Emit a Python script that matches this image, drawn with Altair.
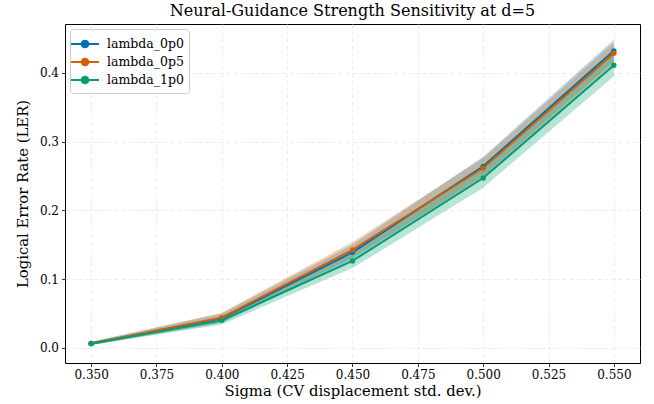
import altair as alt
import pandas as pd

sigma = [0.35, 0.40, 0.45, 0.50, 0.55]
series = ["lambda_0p0", "lambda_0p5", "lambda_1p0"]
ler_0p0 = [0.0065, 0.043, 0.139, 0.264, 0.432]
ler_0p5 = [0.0065, 0.044, 0.1425, 0.2615, 0.4285]
ler_1p0 = [0.006, 0.040, 0.1265, 0.247, 0.411]
lo_0p0 = [0.004, 0.036, 0.128, 0.250, 0.416]
hi_0p0 = [0.009, 0.050, 0.150, 0.278, 0.448]
lo_0p5 = [0.004, 0.037, 0.131, 0.247, 0.413]
hi_0p5 = [0.009, 0.051, 0.154, 0.276, 0.444]
lo_1p0 = [0.004, 0.034, 0.116, 0.233, 0.395]
hi_1p0 = [0.008, 0.046, 0.137, 0.261, 0.427]
x_ticks = [0.35, 0.375, 0.40, 0.425, 0.45, 0.475, 0.50, 0.525, 0.55]
y_ticks = [0.0, 0.1, 0.2, 0.3, 0.4]
colors = ["#0072B2", "#D55E00", "#009E73"]

rows = []
for name, m, lo, hi in zip(series, [ler_0p0, ler_0p5, ler_1p0],
                           [lo_0p0, lo_0p5, lo_1p0], [hi_0p0, hi_0p5, hi_1p0]):
    for s, a, b, c in zip(sigma, m, lo, hi):
        rows.append({"sigma": s, "series": name, "ler": a, "lo": b, "hi": c})
df = pd.DataFrame(rows)

FONT = "DejaVu Serif"
xs = alt.Scale(domain=[0.34, 0.56], nice=False, zero=False)
ys = alt.Scale(domain=[-0.022, 0.471], nice=False, zero=False)
cs = alt.Scale(domain=series, range=colors)

x_enc = alt.X("sigma:Q", scale=xs,
              axis=alt.Axis(values=x_ticks, format=".3f",
                            title="Sigma (CV displacement std. dev.)"))
color_enc = alt.Color("series:N", scale=cs,
                      legend=alt.Legend(
                          title=None, orient="top-left", offset=5,
                          symbolType="M-1.55,0L1.55,0M-0.37,0a0.37,0.37 0 1,0 0.74,0a0.37,0.37 0 1,0 -0.74,0",
                          symbolSize=324, symbolStrokeWidth=2, symbolOpacity=1,
                          labelFont=FONT, labelFontSize=12.5, labelColor="black",
                          labelOffset=12,
                          padding=5, strokeColor="#cccccc", cornerRadius=3,
                          fillColor="white", rowPadding=0))
base = alt.Chart(df)

band = base.mark_area(opacity=0.28).encode(
    x=x_enc,
    y=alt.Y("lo:Q", scale=ys,
            axis=alt.Axis(values=y_ticks, format=".1f",
                          title="Logical Error Rate (LER)")),
    y2="hi:Q",
    color=color_enc,
)

line = base.mark_line(strokeWidth=2).encode(
    x=x_enc,
    y=alt.Y("ler:Q", scale=ys),
    color=color_enc,
)

pts = base.mark_circle(size=28, opacity=1).encode(
    x=x_enc,
    y=alt.Y("ler:Q", scale=ys),
    color=color_enc,
)

chart = alt.layer(band, line, pts).properties(
    width=575, height=339,
    title=alt.TitleParams("Neural-Guidance Strength Sensitivity at d=5",
                          anchor="middle", font=FONT, fontSize=16,
                          fontWeight="normal", color="black", offset=5),
    autosize=alt.AutoSizeParams(type="none"),
    padding={"left": 65, "top": 24, "right": 14, "bottom": 41},
).configure_title(
    font=FONT, fontSize=16, fontWeight="normal", color="black", offset=5
).configure_view(
    stroke="black", strokeWidth=1
).configure_axis(
    domain=False, tickColor="black", tickSize=3.5, tickWidth=0.8,
    labelFont=FONT, labelFontSize=12, labelColor="black",
    titleFont=FONT, titleFontSize=14.8, titleFontWeight="normal", titleColor="black",
    gridColor="#e6e6e6", gridDash=[4, 3], gridWidth=0.8,
).configure_axisX(labelPadding=3, titlePadding=3).configure_axisY(labelPadding=3, titlePadding=9)

chart.save("out.html", embed_options={"renderer": "svg", "actions": False})
